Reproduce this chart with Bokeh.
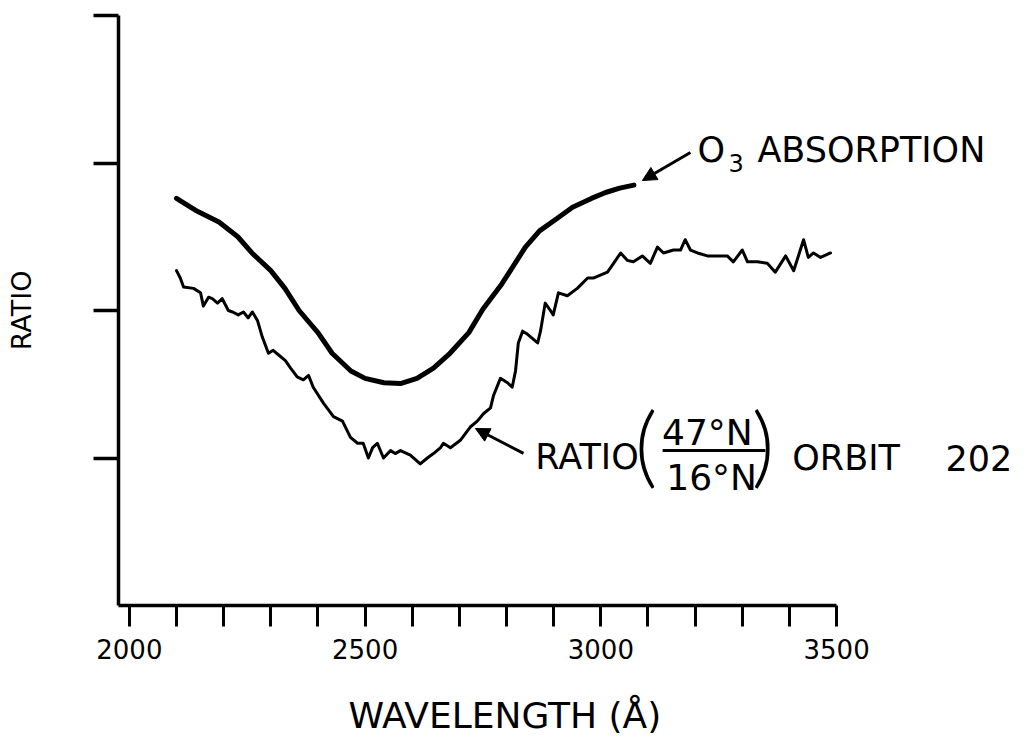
from bokeh.plotting import figure
from bokeh.models import Range1d, FixedTicker, Label, Arrow, NormalHead
from bokeh.embed import file_html
from bokeh.resources import INLINE

# ---- data ----
o3_wavelength = [2100, 2140, 2190, 2230, 2260, 2300, 2330, 2360, 2400, 2430, 2470, 2500,
                 2540, 2575, 2610, 2645, 2680, 2720, 2750, 2790, 2840, 2870, 2910, 2940,
                 2980, 3010, 3040, 3070]
o3_ratio = [2.76, 2.68, 2.60, 2.50, 2.39, 2.27, 2.15, 2.00, 1.85, 1.71, 1.59, 1.54,
            1.51, 1.505, 1.54, 1.61, 1.71, 1.85, 2.01, 2.18, 2.43, 2.54, 2.63, 2.70,
            2.76, 2.80, 2.83, 2.85]

obs_wavelength = [2100, 2108, 2115, 2136, 2151, 2157, 2168, 2176, 2187, 2197, 2210, 2219,
                  2231, 2242, 2252, 2261, 2272, 2282, 2295, 2305, 2316, 2331, 2342, 2356,
                  2369, 2380, 2390, 2412, 2433, 2452, 2469, 2484, 2496, 2507, 2516, 2526,
                  2539, 2554, 2564, 2575, 2596, 2617, 2632, 2645, 2660, 2666, 2681, 2702,
                  2723, 2738, 2751, 2766, 2772, 2787, 2802, 2812, 2819, 2825, 2834, 2844,
                  2866, 2872, 2882, 2893, 2899, 2910, 2929, 2950, 2972, 2984, 3014, 3027,
                  3042, 3056, 3069, 3088, 3105, 3120, 3133, 3154, 3169, 3179, 3190, 3205,
                  3226, 3247, 3268, 3281, 3300, 3311, 3332, 3353, 3370, 3392, 3409, 3423,
                  3430, 3440, 3451, 3466, 3487]
obs_ratio = [2.27, 2.22, 2.16, 2.15, 2.12, 2.03, 2.09, 2.08, 2.05, 2.08, 2.00, 1.99,
             1.97, 1.99, 1.95, 1.99, 1.93, 1.82, 1.71, 1.73, 1.70, 1.66, 1.61, 1.55,
             1.53, 1.56, 1.48, 1.37, 1.28, 1.25, 1.14, 1.10, 1.10, 1.00, 1.07, 1.10,
             1.00, 1.05, 1.03, 1.05, 1.02, 0.96, 1.00, 1.03, 1.07, 1.10, 1.07, 1.12,
             1.21, 1.25, 1.30, 1.34, 1.42, 1.54, 1.51, 1.48, 1.59, 1.78, 1.86, 1.84,
             1.78, 1.86, 2.05, 2.00, 1.97, 2.12, 2.10, 2.15, 2.22, 2.22, 2.26, 2.32,
             2.39, 2.34, 2.33, 2.37, 2.32, 2.43, 2.39, 2.41, 2.41, 2.48, 2.41, 2.39,
             2.37, 2.37, 2.37, 2.33, 2.41, 2.33, 2.33, 2.32, 2.26, 2.37, 2.27, 2.41,
             2.48, 2.36, 2.39, 2.36, 2.39]

x_ticks = list(range(2000, 3501, 100))
x_tick_labels = {2000: "2000", 2500: "2500", 3000: "3000", 3500: "3500"}
y_ticks = [1, 2, 3, 4]

FONT = "DejaVu Sans"
PAREN_FONT = "Lato Light, Roboto Light, Noto Sans"

p = figure(width=1028, height=745, x_range=Range1d(1977, 3907), y_range=Range1d(0, 4),
           output_backend="svg", toolbar_location=None,
           min_border_left=118, min_border_right=0, min_border_top=15, min_border_bottom=140)
p.xgrid.visible = False
p.ygrid.visible = False
p.outline_line_color = None
p.background_fill_color = "white"
p.border_fill_color = "white"

# x axis (axis line stops at 3500; the frame runs on to hold the right-hand captions)
xa = p.xaxis[0]
xa.bounds = (1977, 3500)
xa.ticker = FixedTicker(ticks=x_ticks)
xa.major_label_overrides = {t: x_tick_labels.get(t, "") for t in x_ticks}
xa.major_tick_out = 21
xa.major_tick_in = 0
xa.minor_tick_line_color = None
xa.axis_line_width = 3.5
xa.major_tick_line_width = 3
xa.axis_line_color = "black"
xa.major_tick_line_color = "black"
xa.major_label_text_font = FONT
xa.major_label_text_font_size = "26px"
xa.major_label_text_color = "black"
xa.major_label_standoff = 12
# trailing no-break spaces shift the centred label left, under the drawn axis
xa.axis_label = "WAVELENGTH (Å)" + "\u00a0" * 12
xa.axis_label_text_font = FONT
xa.axis_label_text_font_size = "36px"
xa.axis_label_text_font_style = "normal"
xa.axis_label_text_color = "black"
xa.axis_label_standoff = 33

# y axis
ya = p.yaxis[0]
ya.bounds = (0, 4)
ya.ticker = FixedTicker(ticks=y_ticks)
ya.major_label_overrides = {t: "" for t in y_ticks}
ya.major_label_text_font_size = "0px"
ya.major_tick_out = 25
ya.major_tick_in = 0
ya.minor_tick_line_color = None
ya.axis_line_width = 3.5
ya.major_tick_line_width = 3.5
ya.axis_line_color = "black"
ya.major_tick_line_color = "black"
ya.axis_label = "RATIO"
ya.axis_label_text_font = FONT
ya.axis_label_text_font_size = "27px"
ya.axis_label_text_font_style = "normal"
ya.axis_label_text_color = "black"
ya.axis_label_standoff = 57

# curves
p.line(o3_wavelength, o3_ratio, line_width=5, line_color="black", line_join="round", line_cap="round")
p.line(obs_wavelength, obs_ratio, line_width=3, line_color="black", line_join="round", line_cap="round")

# annotations
def lab(x, y, text, size, align="left", baseline="alphabetic", font=FONT):
    p.add_layout(Label(x=x, y=y, text=text, text_font=font, text_font_size=size,
                       text_color="black", text_align=align, text_baseline=baseline))

lab(3205, 3.09, "O", "35px")
lab(3271, 3.00, "3", "24px")
lab(3332, 3.09, "ABSORPTION", "35px")

lab(2861, 1.01, "RATIO", "35px")
lab(3072, 1.105, "(", "88px", baseline="middle", font=PAREN_FONT)
lab(3226, 1.173, "47°N", "36px", align="center")
lab(3235, 0.868, "16°N", "36px", align="center")
lab(3320, 1.105, ")", "88px", baseline="middle", font=PAREN_FONT)
lab(3406, 1.003, "ORBIT", "35px")
lab(3731, 1.003, "202", "35px")

p.add_layout(Arrow(end=None, x_start=3131, y_start=1.051, x_end=3349, y_end=1.051,
                   line_width=3, line_color="black"))
p.add_layout(Arrow(end=NormalHead(size=14, fill_color="black", line_color="black"),
                   x_start=3190, y_start=3.071, x_end=3088, y_end=2.881,
                   line_width=3, line_color="black"))
p.add_layout(Arrow(end=NormalHead(size=14, fill_color="black", line_color="black"),
                   x_start=2836, y_start=1.031, x_end=2734, y_end=1.2,
                   line_width=3, line_color="black"))

open("out.html", "w").write(file_html(p, INLINE))
